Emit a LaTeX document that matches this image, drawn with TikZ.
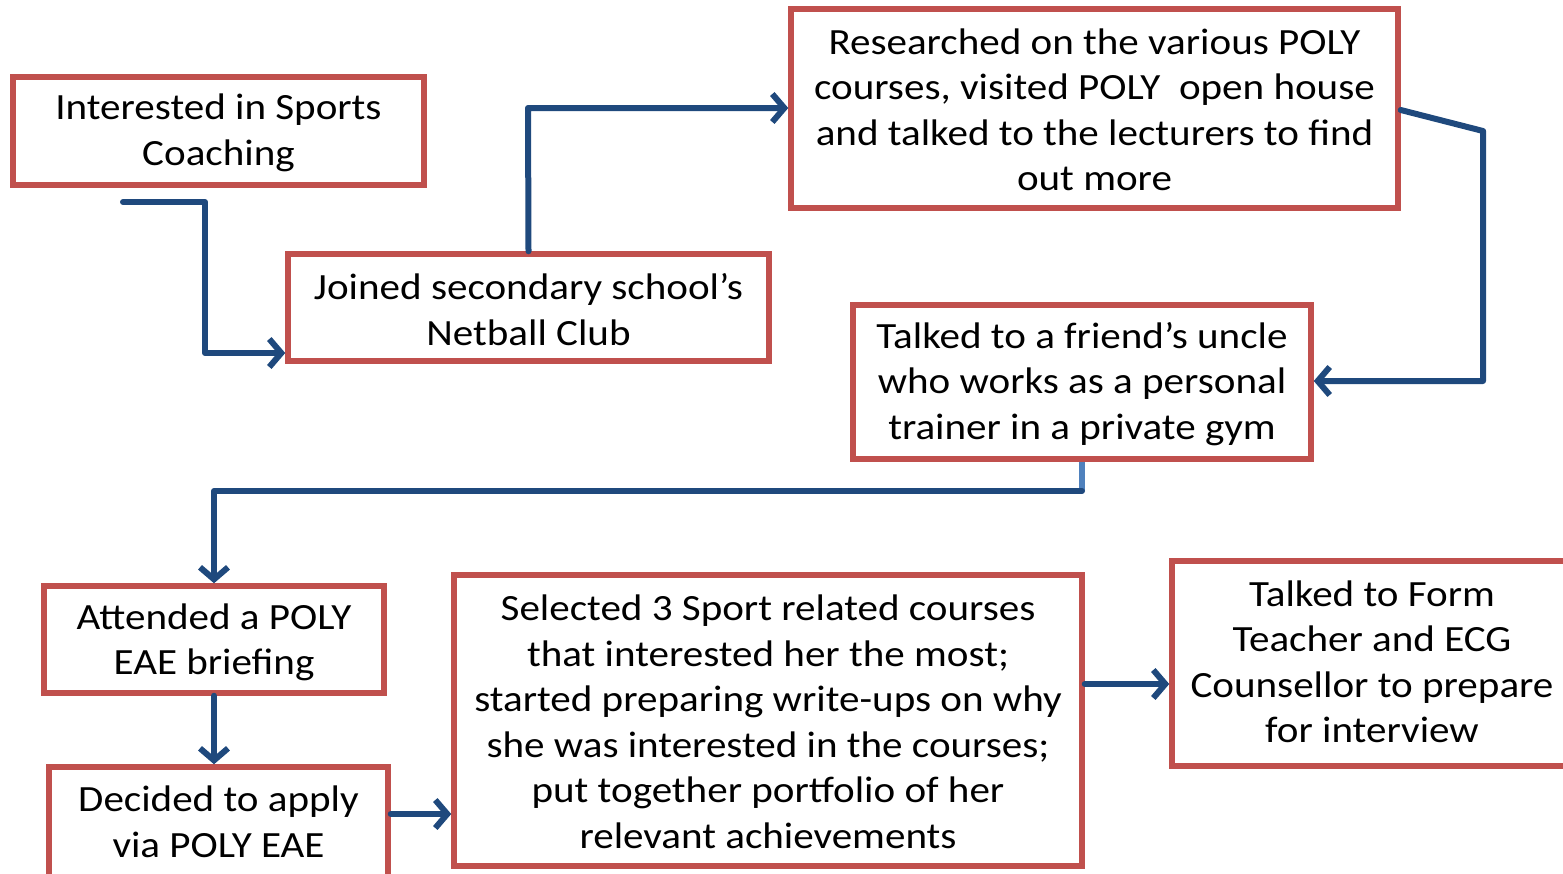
\documentclass[tikz,border=0pt]{standalone}
\usepackage{fontspec}
\setmainfont{Carlito}[FakeStretch=1.11]
\usetikzlibrary{arrows.meta}
\definecolor{boxred}{HTML}{C0504D}
\definecolor{arrblue}{HTML}{1F497D}
\definecolor{lightblue}{HTML}{4F81BD}
\begin{document}
\begin{tikzpicture}[x=1pt,y=-1pt,
  box/.style={draw=boxred, line width=5.5pt, fill=white, align=center, inner sep=0pt,
    font=\fontsize{37}{45.5}\selectfont, text depth=0pt},
  txt/.style={align=center, inner sep=0pt, font=\fontsize{37}{45.5}\selectfont},
  conn/.style={draw=arrblue, line width=6pt, line join=round, line cap=round,
    -{Straight Barb[length=12pt,width=28pt,line width=6pt]}},
  plain/.style={draw=arrblue, line width=6pt, line join=round, line cap=round}]
\useasboundingbox (0,0) rectangle (1563,873);
\node[box, minimum width=411pt, minimum height=108pt] (b1) at (218.5,131) {};
\node[txt] (t1) at (218.5,133) {Interested in Sports\\Coaching};
\node[box, minimum width=481pt, minimum height=107pt] (b2) at (528.5,307.5) {};
\node[txt] (t2) at (528.5,309.5) {Joined secondary school’s\\Netball Club};
\node[box, minimum width=607pt, minimum height=199pt] (b3) at (1094.5,108.5) {};
\node[txt] (t3) at (1094.5,110) {Researched on the various POLY\\courses, visited POLY\ \ open house\\and talked to the lecturers to find\\out more};
\node[box, minimum width=458pt, minimum height=154pt] (b4) at (1082,382) {};
\node[txt] (t4) at (1082,384) {Talked to a friend’s uncle\\who works as a personal\\trainer in a private gym};
\node[box, minimum width=340pt, minimum height=107pt] (b5) at (214,639.5) {};
\node[txt] (t5) at (214,642.5) {Attended a POLY\\EAE briefing};
\node[box, minimum width=339pt, minimum height=116pt] (b6) at (218.5,825) {};
\node[txt] (t6) at (218.5,822) {Decided to apply\\via POLY EAE};
\node[box, minimum width=628pt, minimum height=291pt] (b7) at (768,720.5) {};
\node[txt] (t7) at (768,722) {Selected 3 Sport related courses\\that interested her the most;\\started preparing write-ups on why\\she was interested in the courses;\\put together portfolio of her\\relevant achievements};
\node[box, minimum width=400pt, minimum height=205pt] (b8) at (1372,663.5) {};
\node[txt] (t8) at (1372,662) {Talked to Form\\Teacher and ECG\\Counsellor to prepare\\for interview};
\coordinate (a0) at (123,202);
\draw[conn] (a0) -- (205,202) -- (205,353) -- (b2.west |- 0,353);
\draw[conn] (b2.north) -- (528,108) -- (b3.west |- 0,108);
\draw[conn] (b3.east |- 0,110) -- (1483,131) -- (1483,381) -- (b4.east |- 0,381);
\draw[plain, draw=lightblue, line cap=butt] (b4.south) -- (1082,491);
\draw[conn] (1082,491) -- (214,491) -- (b5.north);
\draw[conn] (b5.south) -- (b5.south |- b6.north);
\draw[conn] (b6.east |- 0,814) -- (b7.west |- 0,814);
\draw[conn] (b7.east |- 0,684) -- (b8.west |- 0,684);
\end{tikzpicture}
\end{document}
